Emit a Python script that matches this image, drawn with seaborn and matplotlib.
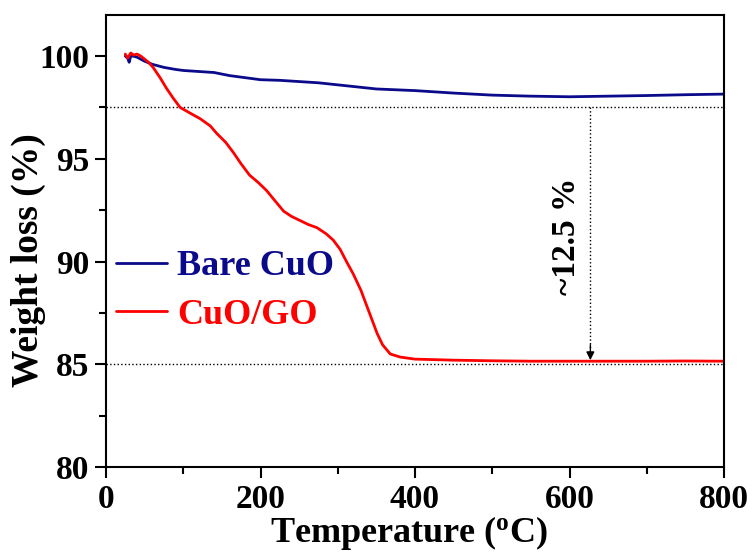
import matplotlib
matplotlib.use("Agg")
import matplotlib.pyplot as plt
import seaborn as sns
import pandas as pd
from matplotlib.ticker import MultipleLocator

# ---- data ----
bare_temp = [25, 28, 30, 32, 35, 40, 50, 60, 75, 90, 100, 120, 140, 160, 180, 200,
             225, 250, 275, 300, 325, 350, 375, 400, 450, 500, 550, 600, 650,
             700, 750, 800]
bare_weight = [100.0, 99.9, 99.7, 100.0, 100.0, 99.95, 99.75, 99.6, 99.45, 99.35, 99.3,
               99.25, 99.2, 99.05, 98.95, 98.85, 98.82, 98.76, 98.7, 98.6, 98.5,
               98.4, 98.36, 98.32, 98.2, 98.1, 98.05, 98.02, 98.05, 98.08, 98.12, 98.15]

go_temp = [25, 28, 32, 36, 40, 45, 50, 55, 61, 70, 78, 87, 96, 110, 122, 135, 143,
           155, 165, 175, 186, 197, 208, 220, 230, 240, 251, 262, 273, 285, 294,
           303, 312, 320, 330, 338, 345, 351, 358, 368, 381, 400, 450, 500, 550,
           600, 650, 700, 750, 800]
go_weight = [100.1, 99.9, 100.15, 100.05, 100.1, 100.0, 99.85, 99.7, 99.45, 98.95,
             98.45, 97.95, 97.5, 97.2, 96.95, 96.6, 96.25, 95.8, 95.3, 94.75, 94.2,
             93.85, 93.45, 92.9, 92.45, 92.2, 92.0, 91.8, 91.65, 91.35, 91.05, 90.6,
             89.95, 89.4, 88.6, 87.8, 87.1, 86.5, 85.95, 85.5, 85.35, 85.25, 85.2,
             85.17, 85.15, 85.15, 85.15, 85.15, 85.16, 85.15]

labels = ["Bare CuO", "CuO/GO"]
colors = ["#0a0a8a", "#ff0000"]
x_ticks = [0, 200, 400, 600, 800]
y_ticks = [80, 85, 90, 95, 100]

# ---- styling ----
sns.set_style("ticks")
plt.rcParams["font.family"] = ["Liberation Serif", "DejaVu Serif"]
plt.rcParams["font.weight"] = "bold"
plt.rcParams["text.color"] = "black"
plt.rcParams["axes.labelcolor"] = "black"
plt.rcParams["xtick.color"] = "black"
plt.rcParams["ytick.color"] = "black"
plt.rcParams["mathtext.fontset"] = "custom"
plt.rcParams["mathtext.rm"] = "Liberation Serif:bold"
plt.rcParams["mathtext.bf"] = "Liberation Serif:bold"
plt.rcParams["mathtext.it"] = "Liberation Serif:bold"

fig = plt.figure(figsize=(7.53, 5.52), dpi=100)
ax = fig.add_axes([106 / 753, 1 - 467 / 552, (724 - 106) / 753, (467 - 15) / 552])

df_bare = pd.DataFrame({"T": bare_temp, "W": bare_weight})
df_go = pd.DataFrame({"T": go_temp, "W": go_weight})
sns.lineplot(data=df_bare, x="T", y="W", ax=ax, color=colors[0], lw=2, label=labels[0])
sns.lineplot(data=df_go, x="T", y="W", ax=ax, color=colors[1], lw=2, label=labels[1])

# reference dotted lines and arrow
ax.axhline(97.5, color="black", ls=":", lw=1, zorder=1)
ax.axhline(85.0, color="black", ls=":", lw=1, zorder=1)
ax.plot([627, 627], [97.5, 85.8], color="black", ls=":", lw=1)
ax.annotate("", xy=(627, 85.2), xytext=(627, 85.95),
            arrowprops=dict(arrowstyle="-|>", color="black", lw=1, mutation_scale=12,
                            shrinkA=0, shrinkB=0))
ax.text(596, 91.25, "~12.5 %", rotation=90, ha="center", va="center",
        fontsize=24, fontweight="bold", color="black")

ax.set_xlim(0, 800)
ax.set_ylim(80, 102)
ax.set_xticks(x_ticks)
ax.set_yticks(y_ticks)
ax.xaxis.set_minor_locator(MultipleLocator(100))
ax.yaxis.set_minor_locator(MultipleLocator(2.5))
ax.tick_params(axis="both", which="major", direction="out", length=8, width=1.5,
               labelsize=24, pad=4, colors="black")
ax.tick_params(axis="both", which="minor", direction="out", length=5, width=1.5,
               colors="black")
for lab in ax.get_xticklabels() + ax.get_yticklabels():
    lab.set_fontweight("bold")
for s in ax.spines.values():
    s.set_visible(True)
    s.set_linewidth(1.5)
    s.set_color("black")

ax.set_xlabel(r"Temperature ($\mathregular{^{o}}$C)", fontsize=26, fontweight="bold",
              color="black", va="baseline")
ax.xaxis.set_label_coords(0.49, -(542 - 467) / 452)
ax.set_ylabel("Weight loss (%)", fontsize=27, fontweight="bold", color="black",
              va="center")
ax.yaxis.set_label_coords(-0.125, 0.458)

leg = ax.legend(loc="upper left", bbox_to_anchor=(10 / 618, 0.48), frameon=False,
                fontsize=26, handlelength=1.4, handletextpad=0.3, labelspacing=0.42,
                borderaxespad=0, borderpad=0)
for t, c in zip(leg.get_texts(), colors):
    t.set_color(c)
    t.set_fontweight("bold")

fig.savefig("out.png", dpi=100)
